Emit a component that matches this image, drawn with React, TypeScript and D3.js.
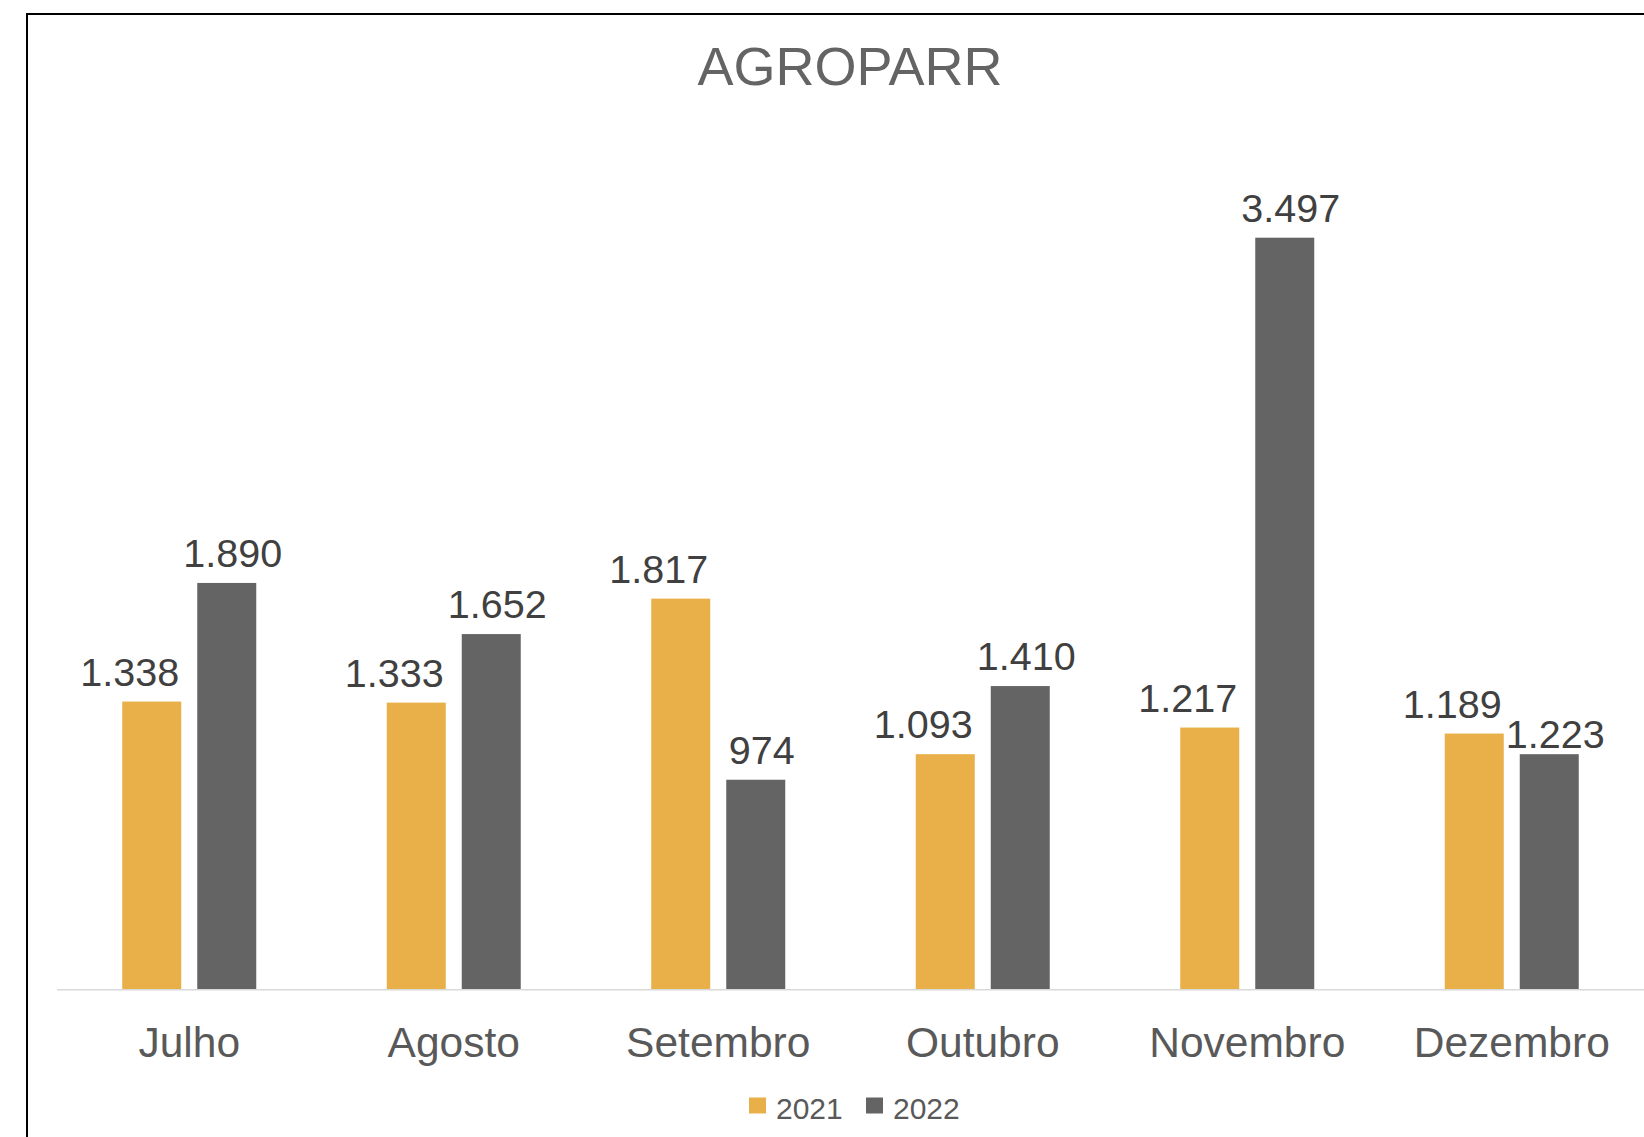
import React from "react";
import * as d3 from "d3";

const categories = ["Julho", "Agosto", "Setembro", "Outubro", "Novembro", "Dezembro"];
const seriesNames = ["2021", "2022"];
// bar heights as drawn in the picture
const values2021 = [1338, 1333, 1817, 1093, 1217, 1189];
const values2022 = [1890, 1652, 974, 1410, 3497, 1093];
// data label texts as printed in the picture
const labels2021 = ["1.338", "1.333", "1.817", "1.093", "1.217", "1.189"];
const labels2022 = ["1.890", "1.652", "974", "1.410", "3.497", "1.223"];
const seriesColors = ["#E9AF48", "#646464"];

const W = 1644;
const H = 1137;
const FONT = "'Liberation Sans', Arial, Helvetica, sans-serif";

export default function App() {
  const x0 = d3.scaleBand<string>().domain(categories).range([57, 1644]).paddingInner(0).paddingOuter(0);
  const x1 = d3.scaleBand<string>().domain(seriesNames).range([-67, 67]).paddingInner(16 / 75).paddingOuter(0);
  const baseY = 989;
  const y = d3.scaleLinear().domain([0, 4000]).range([baseY, baseY - 4000 * (751.3 / 3497)]);

  const series = [values2021, values2022];
  const labels = [labels2021, labels2022];
  const labelDx = [-22, 6];
  const labelFont = 39.5;
  const labelGap = 16;

  return (
    <svg
      width={W}
      height={H}
      style={{ position: "absolute", left: 0, top: 0, background: "#fff" }}
      xmlns="http://www.w3.org/2000/svg"
    >
      <rect x={0} y={0} width={W} height={H} fill="#fff" />
      <rect x={27} y={14} width={W + 20} height={H + 20} fill="none" stroke="#000" strokeWidth={2} />
      <text x={850} y={85} textAnchor="middle" fontFamily={FONT} fontSize={54} fill="#646464">
        AGROPARR
      </text>

      {categories.map((c, ci) => {
        const cx = (x0(c) as number) + x0.bandwidth() / 2;
        const lx = series.map((vals, si) => cx + (x1(seriesNames[si]) as number) + x1.bandwidth() / 2 + labelDx[si]);
        const ly = series.map((vals) => y(vals[ci]) - labelGap);
        const w = labels.map((l) => l[ci].length * 0.5 * labelFont);
        // simple collision avoidance: push the 2022 label below the 2021 label if they are too close
        const tooCloseX = lx[0] + w[0] / 2 + 12 > lx[1] - w[1] / 2;
        if (tooCloseX && Math.abs(ly[1] - ly[0]) < 30) {
          ly[1] = ly[0] + 30;
        }
        return (
          <g key={c}>
            {series.map((vals, si) => {
              const bx = cx + (x1(seriesNames[si]) as number);
              const top = y(vals[ci]);
              return (
                <rect
                  key={si}
                  x={bx}
                  y={top}
                  width={x1.bandwidth()}
                  height={baseY - top}
                  fill={seriesColors[si]}
                />
              );
            })}
            {labels.map((l, si) => (
              <text
                key={"l" + si}
                x={lx[si]}
                y={ly[si]}
                textAnchor="middle"
                fontFamily={FONT}
                fontSize={labelFont}
                fill="#404040"
              >
                {l[ci]}
              </text>
            ))}
            <text x={cx} y={1056.5} textAnchor="middle" fontFamily={FONT} fontSize={42.5} fill="#595959">
              {c}
            </text>
          </g>
        );
      })}

      <line x1={57} x2={W} y1={baseY + 0.75} y2={baseY + 0.75} stroke="#d9d9d9" strokeWidth={1.5} />

      <g>
        <rect x={749} y={1097.5} width={17} height={16} fill={seriesColors[0]} />
        <text x={776} y={1119} fontFamily={FONT} fontSize={30} fill="#595959">
          {seriesNames[0]}
        </text>
        <rect x={866} y={1097.5} width={17} height={16} fill={seriesColors[1]} />
        <text x={893} y={1119} fontFamily={FONT} fontSize={30} fill="#595959">
          {seriesNames[1]}
        </text>
      </g>
    </svg>
  );
}
